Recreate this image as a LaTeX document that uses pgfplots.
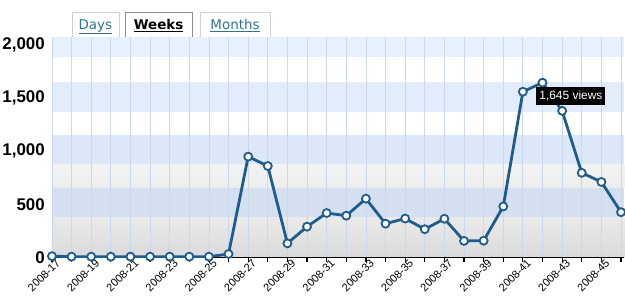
\documentclass[border=0pt]{standalone}
\usepackage{pgfplots}
\pgfplotsset{compat=1.18}
\usepackage{fontspec}
\setmainfont{Liberation Sans}
\newfontfamily\tabfont{DejaVu Sans}
\definecolor{linec}{HTML}{1F5C8E}
\definecolor{tabtext}{HTML}{2A7393}
\definecolor{gridc}{HTML}{C9D8EE}
\definecolor{bandA}{HTML}{E6F0FE}
\definecolor{bandB}{HTML}{E2ECFB}
\definecolor{bandC}{HTML}{DCE7F8}
\definecolor{bandD}{HTML}{D4DFF0}
\definecolor{grayA}{HTML}{F3F3F3}
\definecolor{grayB}{HTML}{EDEDED}
\definecolor{grayC}{HTML}{EAEAEA}
\definecolor{grayD}{HTML}{DADADA}
\pgfplotstableread{
w v
17 15
18 10
19 10
20 10
21 10
22 10
23 10
24 10
25 10
26 35
27 950
28 862
29 135
30 292
31 420
32 395
33 555
34 320
35 368
36 268
37 366
38 158
39 160
40 482
41 1560
42 1645
43 1380
44 798
45 712
46 428
}\views
\begin{document}
\begin{tikzpicture}
\begin{scope}[x=1bp,y=1bp]
\useasboundingbox (0,0) rectangle (625,305);
% background bands (decoration behind the plot area)
\fill[bandA] (52,248.0) rectangle (625,267.5);
\fill[bandB] (52,193.0) rectangle (625,223.1);
\fill[bandC] (52,140.0) rectangle (625,170.0);
\shade[top color=grayA, bottom color=grayB] (52,117.0) rectangle (625,140.0);
\fill[bandD] (52,87.05) rectangle (625,117.0);
\shade[top color=grayC, bottom color=grayD] (52,47) rectangle (625,87.05);
% tabs
\draw[draw=black!18] (72,268) -- (72,292.5) -- (119,292.5) -- (119,268);
\draw[draw=black!45] (125,268) -- (125,292.5) -- (192.5,292.5) -- (192.5,268);
\draw[draw=black!18] (200,268) -- (200,292.5) -- (270.5,292.5) -- (270.5,268);
\node[anchor=base, text=tabtext, font=\tabfont\fontsize{13.5}{14}\selectfont, inner sep=0pt] at (95.5,275.5) {\underline{Days}};
\node[anchor=base, text=black, font=\tabfont\bfseries\fontsize{13.5}{14}\selectfont, inner sep=0pt] at (158.75,275.5) {\underline{Weeks}};
\node[anchor=base, text=tabtext, font=\tabfont\fontsize{13.5}{14}\selectfont, inner sep=0pt] at (235.25,275.5) {\underline{Months}};
\end{scope}
\begin{axis}[
  at={(52bp,47bp)}, anchor=south west,
  scale only axis, width=573bp, height=220.5bp,
  xmin=17, xmax=46.17, ymin=0, ymax=2070,
  axis line style={draw=none},
  xtick={17,19,...,45},
  xticklabels={2008-17,2008-19,2008-21,2008-23,2008-25,2008-27,2008-29,2008-31,2008-33,2008-35,2008-37,2008-39,2008-41,2008-43,2008-45},
  minor xtick={18,20,...,46},
  xmajorgrids, xminorgrids,
  major grid style={draw=gridc, line width=0.8bp},
  minor grid style={draw=gridc, line width=0.8bp},
  tick align=outside,
  xtick pos=bottom,
  major tick length=4bp, minor tick length=4bp,
  x tick style={draw=black, line width=1.2bp},
  ytick={0,500,1000,1500,2000},
  yticklabels={0,500,{1,000},{1,500},{2,000}},
  ytick style={draw=none},
  ytick pos=left,
  yticklabel style={font=\fontsize{17}{17}\selectfont\bfseries, inner sep=1pt, xshift=-2bp},
  xticklabel style={rotate=45, anchor=east, font=\fontsize{11}{11}\selectfont, inner sep=0pt, xshift=5bp, yshift=-4bp},
]
\draw[black, line width=1.8bp] (axis cs:17,0) -- (axis cs:46.17,0);
\addplot[linec, line width=2.8bp, mark=*, mark size=4bp, mark options={fill=white, draw=linec, line width=1.8bp}] table[x=w, y=v] {\views};
\end{axis}
\node[fill=black, text=white, font=\fontsize{12}{12}\selectfont, inner sep=0pt, minimum width=69bp, minimum height=18bp] at (571.5bp,209bp) {1,645 views};
\end{tikzpicture}
\end{document}
